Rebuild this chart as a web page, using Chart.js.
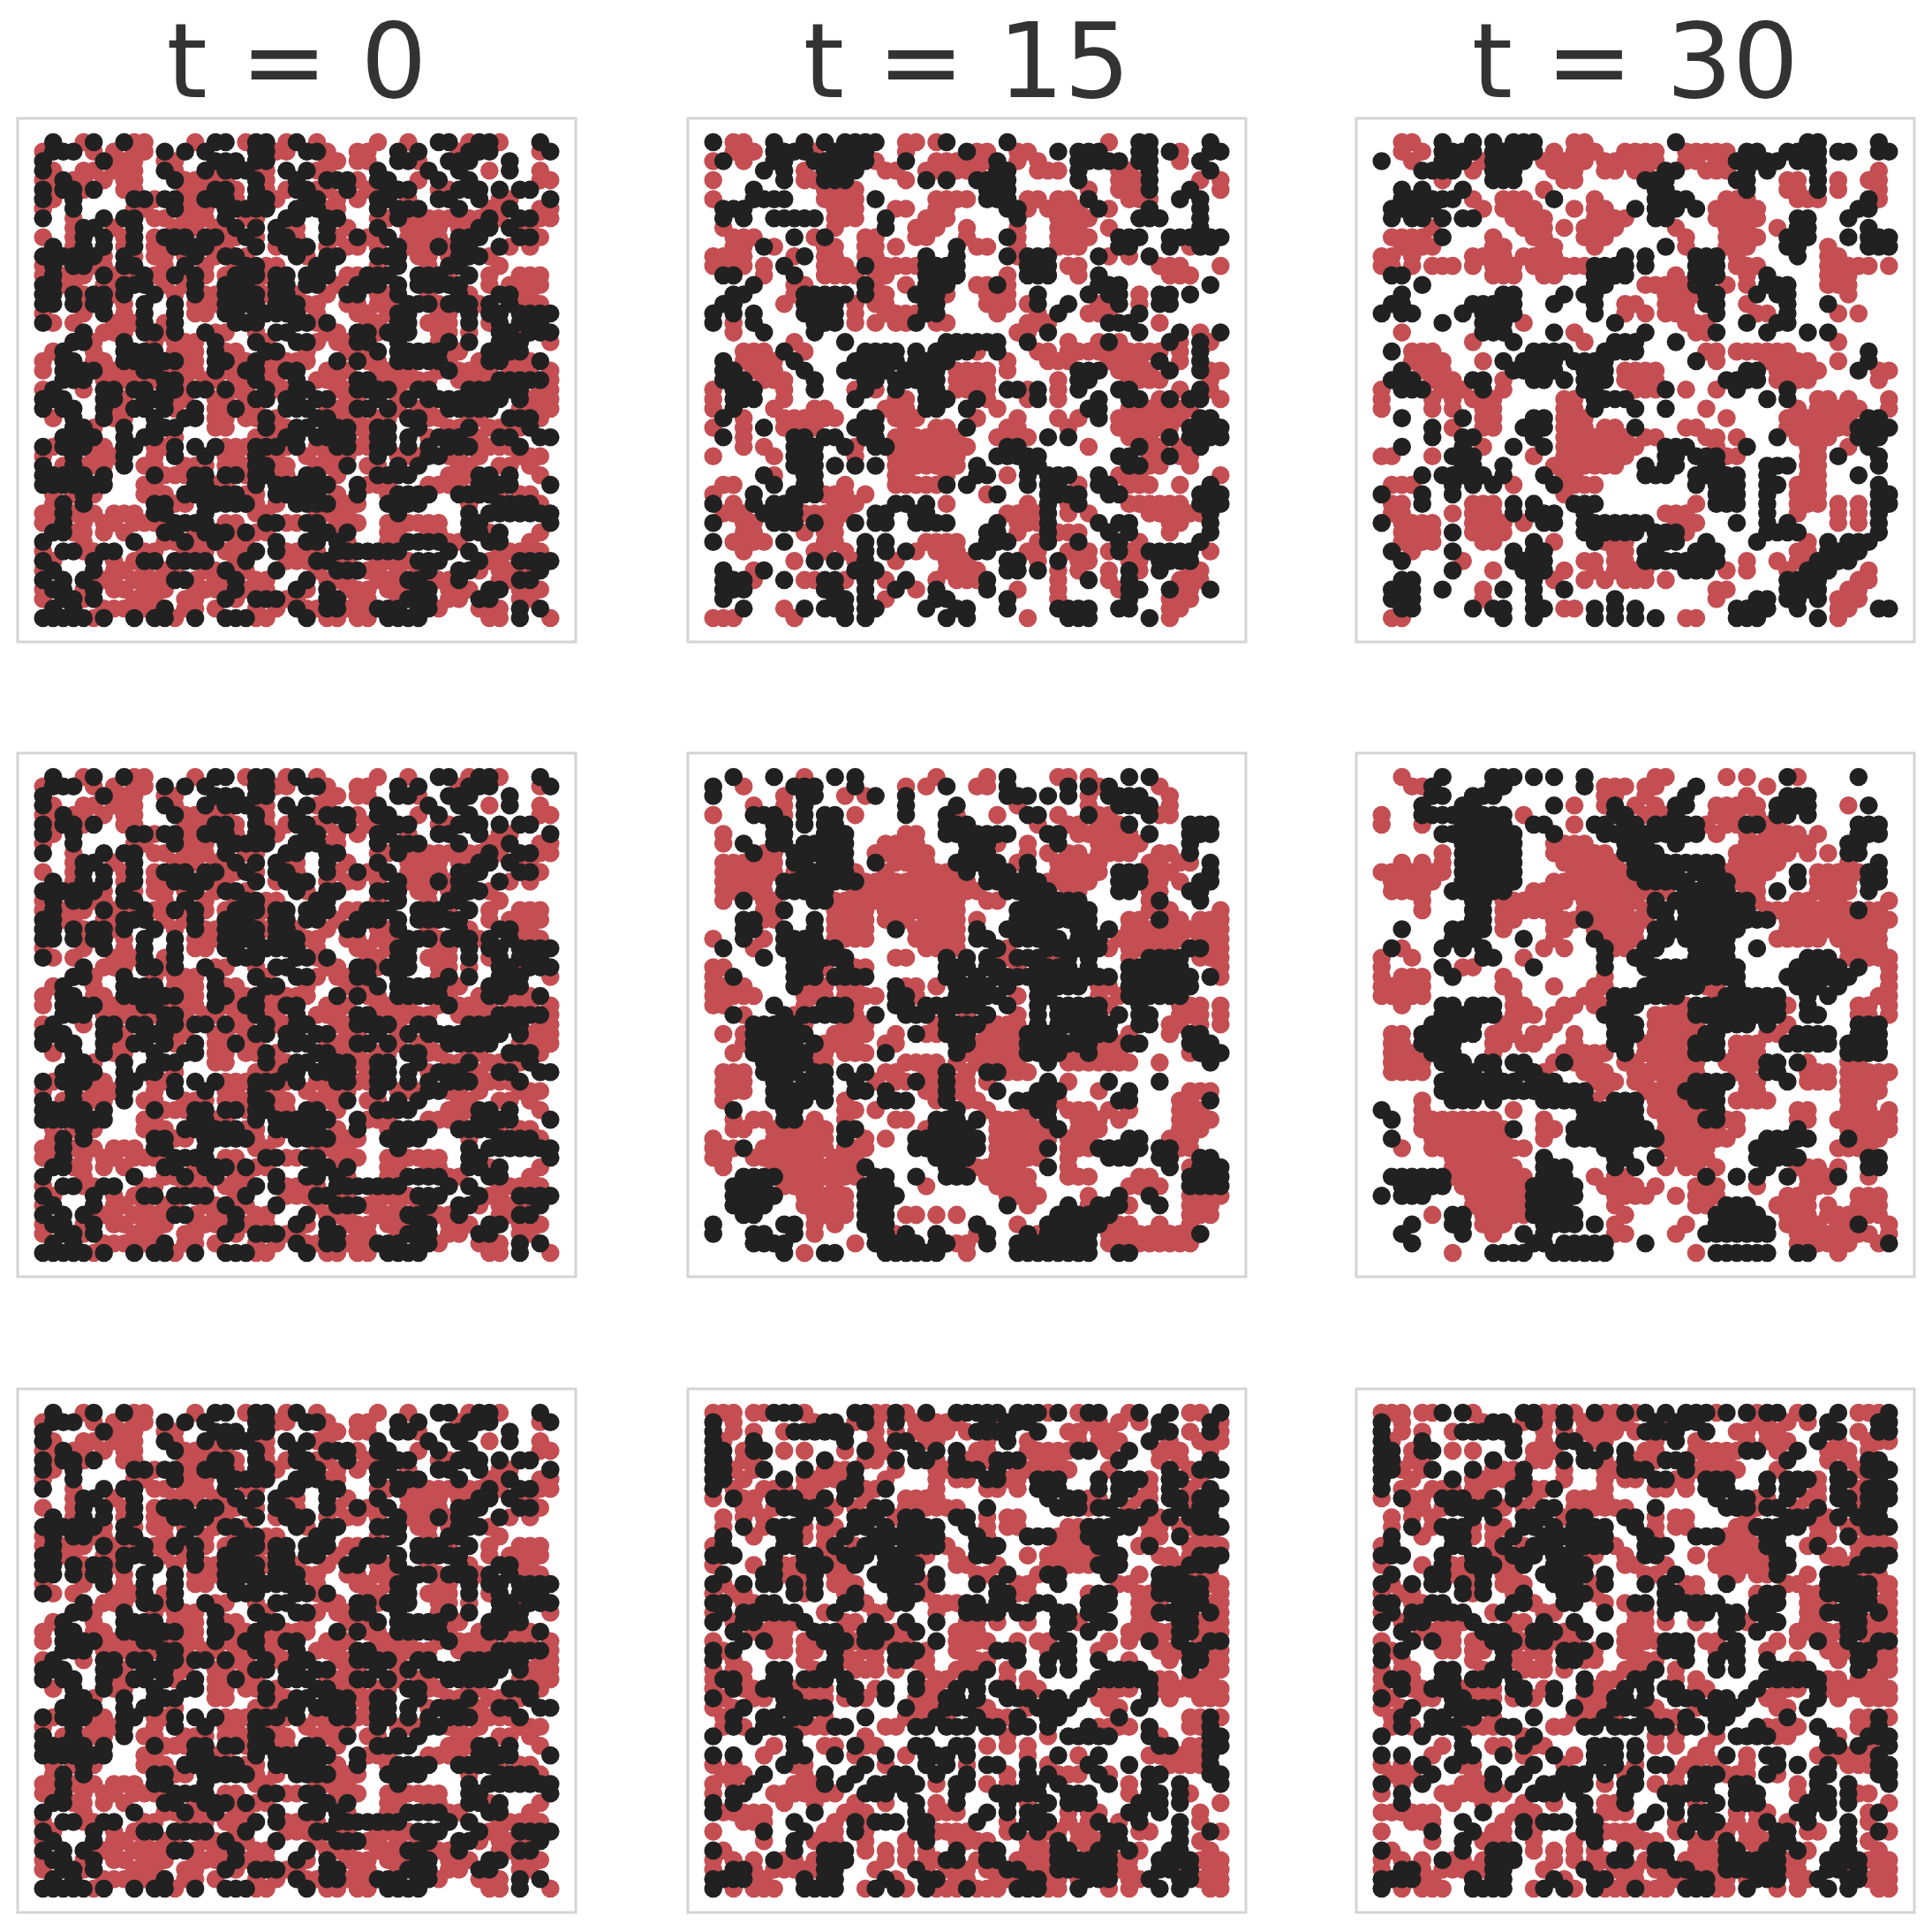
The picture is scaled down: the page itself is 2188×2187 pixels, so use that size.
<!DOCTYPE html><html><head><style>html,body{margin:0;background:#fff}canvas{position:absolute}div.t{position:absolute;font-family:"DejaVu Sans";font-size:118px;color:#333;text-align:center;width:632px;top:2px;line-height:134px;white-space:pre}</style><script src="https://cdn.jsdelivr.net/npm/chart.js@4"></script></head><body><script>
const titles=["t = 0","t = 15","t = 30"];
const gridT0=[
"k1 r4 k5 k8 r9-10 r15 k17-18 r20 k21-22 r24 k25 r27 r33 r36 k39-40 r42 k43-44 r45 k49",
"r0 k1-3 r5 r7 r9-10 k12 k14 k16 k21-22 r23-24 k26-27 r28 r31-32 k35 k37 k43-44 r41 k42 r49 k50",
"k0 k6 r7-9 r12-13 k17-19 k21-22 r28-29 r31-32 k35-36 r37 k40-41 k42 k46",
"k0 r1 r4 r5 r7-9 k12 r13 k16 r17 k18-20 r21-22 k24 k26 r27-28 k33 k38 k41 r44 k46 r49",
"r0-1 k2 r3-4 r6 r8-9 k13 r14-18 k21 r22 k25 k28-30 r31 k33-34 r37 k39 k42 r49-50",
"k0 r1 k2-3 r4 k5 r8-9 r14-16 k17 k18 r19 k21 r22 r24 k25-26 r27-28 k30 r32-33 k34-36 r39-40 k41-43 k45 k47-48",
"k0 r1 k3 k9-10 r11 k12-13 r14-15 k16-18 r19 k21-22 r23 k26-27 r29 r31 k33-34 r36 k39 k40 k43 r45 r46 k50",
"r0 k3 r9-10 k13 r14-16 k18-19 k20 k21-22 k25-27 r28-29 k33 k35-37 k41 r44-45 k46 r49-50",
"k0 r3 k6 k8-9 r11-12 r14-16 k18 r20 r21 k24-25 k28-29 r33-34 k35 r36-40 r41-43 r45 k44 k47-48 r49-50",
"r3 k4-5 r7 k9 r13-15 r17-18 k19 k21 k23 r24-25 k28 r30 k33 r36-39 r41-43 k43-44 k46 r47-48",
"r0 r3 k4 k6 r8 k9 r11 k12-14 k16-17 r18-19 k20 r21 k23-24 r25 k28 r29 k31 r32-33 k34 r36-39 k41-43 k47-48 r49",
"k1 r3 k4 k6 r8 k9 r11-12 k13-15 k16 r17-18 k21 r23 k24-26 r28 r30-31 r33 k35 r36-39 k39 r40 k41-42 k45 r46 r48",
"k0-2 k3-5 r6 k8 r9 r11-12 r14 k15 r17 k18-19 r20 k25 r26 k28-29 k33-35 r37-38 r40 k41-43 r44",
"r0 k1 k3-4 r5-6 k8-9 r12 k14 r16 r19 k20-21 r22 r23 k27-28 r33 k35 r38 k40-41 r45",
"r0 k1 r2-4 k6 r7-9 k10 r11-12 k13 r14 k15 r16 r18 k19-21 r22 k23-24 k26-28 r30-31 k32-34 k37-39 r40 k42 r44 r47-49",
"k0-1 r2-3 r6-7 k8 k9-10 r12 r14 k15 k18-20 r21 k23-24 k26-27 r29 k31-33 k35 k37-41 r44 r46-49",
"k0-1 k3 r4 k5-6 r7 k8 k11 r13 k15 r16-17 k18-20 k21 r22 k23-24 r25 r28 k30-31 r33-34 k35 r38 k41 r42 k45-46 r47-48",
"k0-1 k3 r4 k5-6 r8 k10 k13 r15-17 k18-19 k20-21 k23-25 r26-27 r30-31 r33-35 k36-38 r39 k40-42 r43 k44 k46 r47-49",
"r0 r4 k6 r8 k10 k13 r15-16 k18-19 k21-25 r27 r31-32 r34 k35-36 r39-40 k42 k44-45 k47-50",
"k0 r1 r3 r7-9 k10 r12 k13 k19-20 k21 k25-26 r27 k28 r32-33 k35-36 r38 r39-40 k42 r44 k45 k47-49 r49",
"r6-8 k4 k10-11 r12 k13 r16-17 k16 r18 r21 k23 k24 r28-29 r33 k31-32 k34-36 r39-40 r42 k45-46 k48-49 r47 k50",
"r3 k3-4 r5 k8 r11 r13-15 k17 k21 r21-22 k25-26 r27 r29-31 k31-32 k35 r39-40 k40 k42 k45-47 r47 r50",
"r1 k2 r5 k8-10 k11 r13-15 k17 r18-19 r22 k22-23 r26 r30-32 k33 k35-39 r40-41 k44-46 r46 k47",
"r0 k2-3 r5-6 k8-10 k11-13 r14-15 k17-18 r19-20 k21 r22-24 r25-26 k29 k31 r32-33 k35-39 r39-40 r43 k44-45 r46-48 k49",
"r0 k2-4 k5 r6-9 k10-11 r12-14 r15 k17 r18-19 k20-21 r22-24 k24-25 r28-30 r33-36 k40 r39-41 r42-44 r46-48 r50",
"k2-4 r6-9 r10-11 k12-13 r14 r16-17 r19-20 k21 r22-23 k25 r27-29 k31-32 r33-36 r37-38 r41-44 k45-49 r50",
"r0 k1 r4 k6-7 k9-10 k12-13 r14 k15-16 k18 r19-20 k22 r23-24 k25-26 r29-30 k31-33 k34 r35 k37-38 k42-47 r49-50",
"k0-2 k6-7 r8 k10-12 r13-14 r17-18 r20 k21-22 k24-25 k27-28 r30-31 k33 r35 k36 k38-39 k40-42 k43-45 k47 r48-50",
"k0 k2-3 k6 r7-8 k9-10 k12 r13 k15 r17-18 k19 r20-21 k24-26 r28-31 k31-32 k34 r35 r37-38 k40-42 k43-44 r47-50",
"r1 k3 k6 r7-8 k11 k14-15 r17-18 r20-21 k22 r23 k27-28 r29-31 r33-34 k36-37 r38-39 r42-43 k46-48 r49",
"r3 k3-4 r5 k8 k11-13 r17-18 k22 r23-24 k25-26 k28-30 r31-32 k33-34 k37 r40-42 k42 r44-47 k48",
"k2-5 k8 k10-11 r13 r21-23 k24-25 k27-30 r32-33 k33-34 k36 r38 k39-41 r41-43 k45-46 k49-50",
"k0 r1 k2-4 r5-6 r8 k8-9 r11-12 k13 k15 k17 r18-20 k21-22 k23 r24 k25 r27-28 k29-30 r31-33 k33-34 k36 k38 k40-42 r43-46 k47",
"r0 k3 r5 r6-7 k8 r11 k13 k16 r18-19 k21 r22-23 r26 r28-30 k33 r35 r36-37 k38-39 r40-41 r43 r47-49",
"k0 r2 k3 r4-6 k8 r10-11 r14-16 r18-20 k21-22 r23-24 r27-29 k30 r32-33 k35 k37 r41-42 r45-46 r48",
"k0-3 r3 k4 r6 k6 k11 r12-14 k15-16 k18-19 r20 k21-22 r23-24 k26-27 r29 r33 k33-36 r40-42 k43-44 k46 r49",
"k0-3 r3 k4-6 r10-11 k15-16 r17-18 k21 k23-27 r26 k28 k31 r32-34 r38 r39-41 k43-45 k46 k50",
"r1 r3 k4 r5 r10-12 k14-16 r17 k17-19 r20-21 k23-27 r29 k31 r34 k35-38 k41-43 r44-45 k43-44 r47-48",
"r1 k2 r4 k4 k11-12 r13-14 k16-20 r20-21 r23 k25-27 k28 r29-31 k34-37 r42 k45-47 r48-49 k48",
"r0-1 k2 r3-5 r7-9 k11-12 k16 r21-22 r27-30 k35 k42 k44-46 k47-50",
"r0-1 k2 r4 r6-7 r9-12 k13-16 r18-19 k22-23 r24-25 k26-27 r29-31 r34-39 k42 k43 k50",
"k1-2 r3-4 r6 r8 k12-13 r15 k16-18 r19 k20 r21 r22 k27-28 r29 k30 r34-35 r38-39 k42-43 r44 k45 r49",
"k0 r4 k9 r12-13 k14 r15-16 k17 r19-20 k23 k26-27 k29 r30 r34-35 k36-39 r40-41 k44 r45 k45 r48",
"r0 k2-3 r4-5 k6-7 r10-11 r14-16 r18-20 k21 k23 r24-27 k29-32 k33-35 k40 k42 r45-47 r48-49",
"k0 r1 k5 r7 r9-10 k10-11 k13-16 r15 r19 k20 r24-26 k27-28 r28-30 r33-36 k37-39 k43 r44-45 k47-49 k50",
"r0 k1 k5 r7-8 r10 r12-13 r16-17 k18 r19-20 k23 r27 k29 k30-31 r32-33 r35 r37 k38 k41-42 r43 r45-47 r48 k49",
"k0 k2 k4 r5-7 r9-12 k13-14 r15 r17-18 k19 r21-22 k26 r28-30 r33-35 k36 k37 r38-40 k41 r45-46 k47-48",
"r0 k1-2 r4 k5 r7-8 r10-12 r15-18 k19 r20-22 k25 r26 k28 r30-32 r34-36 k37-38 r40-42 k44-45 r47-49",
"r0 k2-3 r4 k5 r9-11 r14-15 k18 r19 k21-23 r24-25 k28-29 r31-32 r35 k36-38 r40-41 k43-44 r47-48",
"k1 k3 r6-8 r9-12 k12 r14-15 r17 r21 r23 k25 r26-27 k28-29 r30-32 k33-35 k37-38 r39 r43-45 k47 k49",
"k0-4 r5 k6 k9 k11-12 r13 k15 k18-20 r21-22 k26 r28-29 r31-32 k34-35 k36-37 r44-45 k47 r50"
];
const gridA15=[
"k0 r2-3 k6 k9 k11 k13-16 r19-20 r22 k23 k29 r39 k42-43 k49",
"r2-4 k6-9 r10 k12-15 r19 k25 r26-27 r30-31 k34 k36-38 k42-43 k45 r46 k49-50",
"r0 k1 r3 k6-7 k10-15 r16 k19 r22-27 k28 r30 r32 k36-40 k42-43 r46 k48",
"k5 k7 r9 k11-14 r17-18 r21-26 k28-29 r32-34 k36 r40-41 k43 k49",
"r0 k7 r9-10 k11-13 r19 k21 k23 k26-29 k36 r40-42 k43 r48 r50",
"k4 r11-14 k27-29 r37 r40-42 k43 k47 r50",
"r0 k4-7 r11-14 k16 r22-25 k27-29 r31-32 r34-35 k37 r41-43 k46 k48",
"k1-3 r12-14 r18-19 r22-23 k29-30 r31 r33-36 k38 r39 k43 k48",
"k1 k3 k6-10 r12-14 k17 r21-23 k30 r34-37 k42-44 k48",
"r1 r12 k17 r20-22 r25 r30 r34-36 r39 k48",
"r2-4 k8 r10 k11 r15-16 r20-21 r25 k29 r30 r34-37 k40-42 k45-50",
"r2-3 k5 r6 r11-12 r15-16 r18 k24 r26-27 r30 r34-36 k40-41 k45 r47 k48-49",
"r0-3 r8 k9 r11-12 r15-16 k21 k24 k29 r30 k31-33 k38 r39 r41 k43",
"r0-3 r5 k7 r11-13 k15 r16-20 k21-24 k31-33 r35-36 r44-46 r50",
"k1-2 r5 k8 r11-14 r16-17 k21-24 r29 k31-33 r36 k38 r45-47",
"k4 r8-9 k15 r16 r19 k21-23 r26-27 k28 r29 k38-40 k49",
"k2-3 r8 k9-13 k15 r16-17 k20-22 r23 r27-29 k32 k37 k39-40 r42 k44-45 k47",
"k1-2 r7 k9-12 r14 r16-17 k21-22 r27-29 r31 k32 k35 r38-39 k40 r42 k44-45",
"k0 k2 k4 k9-12 r14 r17-20 k21-22 r28 r32 k34 r37-39 k42",
"k0 r2 k4 k10-12 r14 r16 r18-19 k20 r22-23 r31-33 k39-41 r44",
"r2 k5 k10 r30-31 k33 k42 k46 r48 k50",
"r8 k13 k23-28 k31 r35 r38 k39 r40 k45 r46 k48 r49",
"r3-5 k7 r9 k15-18 k20 k22-25 r26 k28 r32-33 r35-44 r46 k48",
"k1 r3-6 k8 k14-18 k20-23 r29 r33-35 r39-42 k44 r46 k48",
"k1-2 r4-6 k9 k13-17 k19-22 r24-27 r29 k36-38 r40-43 k45 k48 r49-50",
"k1-3 r5-7 k10 k15-16 k18-22 r24-27 r34 k36-37 r41-44 r49",
"r0 k2-4 r7 k10 r14 k15 r16 k18 k21-22 r24-27 k29-30 r31 k32 r34 k36 k40-41 r46 k48 r49",
"r0 k2-4 r7 k14 r18-19 k21-23 k26 r27 r31 k32 r34 k38 k41-42 r44 k45 k47-48 r50",
"r0 k2 r6 r10-11 r17-19 k21-22 k25 r28 k37-38 r41-47",
"k1 r3 r7-12 k15-16 r18-20 r26 r30 r34 r36 k38 r40-46 k48-49",
"r0 r3 k5 r7-10 k14-16 r19 r22-23 k25 r29-30 r35 r40-45 k47-50",
"k1 r3 k8-9 k11-12 k15-16 r18-24 r28-31 k33 k35 r41-43 k45 k47-50",
"r3 r5 k8-10 k13 r14 k16-17 r18-25 k29-30 r37 k42 r43-44 r46-47 k48",
"r0 r6 k8-10 r14 r18-24 k28-32 k40-41 r43-44 k45 r46-47",
"k8-10 k12 k14 k16 r18-24 k26 k31-32 k41-42 r43-44 r47",
"k5 r6 k9-10 r18-19 r23 k26-27 r29 k31 k33-35 k38 r40-42 r50",
"r1-2 k6 k9-10 r13 r18-22 k23 k25 k31 k33-34 r36 k38-39 r41-43 r46 k49",
"r0 k4 k8-10 r11-13 r15 r27 k28 k33-36 k39-40 k48-50",
"k0 r2 k4 k6-8 r12-14 k18-19 k21 r23 r31 k33 r35 k36 r41-46 k48-50",
"r1-3 k5-8 r9-13 k16-17 k20-21 r29-32 k33 r35 r37 r43-44 r45-48 k49",
"k0 r3-4 k6-8 k10 r11-12 k14 k16-17 k20-23 k28 r30-32 k33 k38 k40-41 r45-46 k49",
"r3-4 r9 r11-12 k27-28 r30 k33 r34-36 k39 k41 r45 k49",
"k0 r2-5 k7 r11-12 k15 k17 r21-24 k27-29 r32 k33 k36 k40 r42 k48",
"r3 r10-11 r13 k15 k17 k19 r20 r22-24 k26-27 r31-32 r35-37 r39 k40 r41-42 k43-47 r49",
"r8 k10 k12 r14 k15 r18 r23-25 k29-30 r32 k34 r36-37 r41-42 k44-47",
"k1 r4 k5 k14-16 r23-26 k29-30 k32 r34 r36 r39 k41 r42 k44 r47-48",
"k1-3 r4 k7 r9-10 k11-12 r13 k15 r17 k19 r22 r24-26 k27 r34 k37 r39 k41 r46-48",
"k1-3 k11-12 k15 k18 r20 k22 k27 r30 r34 r40 k41-42 k45 r46-47 k49",
"k1 k12-13 k15 r17 k22-23 k29 r34 k41 r45-47",
"k3 r7 k9 k11-13 k15-16 k21 k24-25 k29 k34-37 k40-41 r45-46",
"r0-2 r8 k13 k15 k23 k25 r31 k35-37 k43 r45"
];
const gridA30=[
"r2-3 k6 k9 k11 k13-15 r19-20 k29 k42-43 k49",
"r2 r4 k6-9 k11-15 r17 r19-21 r24-27 r30-34 k36-37 k40-43 k45-46 k49-50",
"k0 r3 k6-8 r10 k11-14 r16-20 r22-27 r30-31 r33-34 k35-39 k41-43",
"k4-7 r9 k11-13 r17-19 r22-23 r25-26 k28-29 r32-34 k36 k38 k43 r49",
"r6 k11-13 r18-19 k26-28 k35-36 r40-41 k43 r45 r48-49",
"k2 k4 k8 r16 k27-28 k36 r40-41 k43 r45 r49",
"k2-7 r9 r12-14 k17 r21 k27-30 r34-36 r41-43 k48 r49",
"k1-5 r10 r12-15 r19 r21-22 k25 k27-29 k31 r33-37 k47-48",
"k1 k3-4 k6 k8-9 r13-16 r21-24 k27-28 r33-37 k41-42 k46",
"r5 r14-16 r18 r20-23 r29 r34-36 r39 k41-42 k48",
"r1-4 k6 r11 r15-16 r20-22 r30 r34-37 k40-42 k46 k48-50",
"r2-5 r11-12 r16-17 r21 k28 r30 r34-36 k40-41 r44 k48-50",
"r0-1 r3 r9-12 r14-17 k24 k26 k31-33 r35 k41 r44-45",
"r0-1 r3 r5-7 r9 r11-13 r15-20 k21-24 k26 k31-33 r35-37 r44-48 r50",
"k1-2 r11-13 r16-17 k21-24 r29 k31-33 r36 k38 r44-46",
"k4 k21-22 r26-30 k31-32 r34 r36 k38-40 r44-46",
"k2 k12-13 k18 k20-21 r28-31 k32-33 k37 k39-40 r46",
"k1-2 k9-13 k17 k21 r24-25 r28-30 k32-33 r36 k40 k44",
"k0 k2-3 k8 k10-13 k21 r24 r26 r28-30 k33 r37-38 k40 r45 r47",
"k6 k10-12 r14 k23 r30-32 k36 k39-40",
"r2 k10-12 k17 r19 k26 r31-32 k33 k38 k42 k44",
"r9 k13 r20 k23-25 k29 r45",
"k1 r3-5 k15-18 k22-25 r32-33 r35-40 k48",
"r3-6 r10 k12 k14-17 k19-22 k31 r33 r38-42 r45 k48",
"k2 r4-6 k13-17 k20-22 r24-27 k36-37 r39-43 k47 r49-50",
"k1-3 r5-7 k9-10 r12 k15-16 k18 k20-22 r24-27 k34-37 r39-42 r49",
"r0 k2-4 r6-8 k10 r12 k20-21 r25-27 k28 r30 r33 k35 k40",
"r0 r5 r7 r9-11 r18-19 k21-24 k38 k40 r43-44 r46 r50",
"r0 r5 r7 r10-11 r18-19 k21 k25 k28 r32 r41 r43-47 r50",
"k2 k8 r10-11 k15-16 r18-20 r34 r40-46 k48-49",
"k5 r7 r10-11 k14-16 r18-20 r22-23 k25 r30-31 r40-46 k47-50",
"k5 k8-9 k15 r18-24 r26-27 r32-33 r35 k39 r41-44 k47-49",
"k2 k8 r10 k13 k16 r18-25 k28-30 r33 k36 r42-43 r46 k48",
"r0-1 r5 k7-9 r15 r18-24 k28-29 k31-33 r34-35 r42-43 k45 k49",
"k8-9 k12 r17-23 k26 k28-29 k32-33 k38-40 r42-43 k49",
"k4 k6-10 k12 k16 r18-19 k26-28 k31-35 k38 r42-43 k47",
"r1-3 k7 k9 k11 r13 k17 r18-21 k31 k33-35 k38-39 r41-43 k49",
"k0 k4 k7 r18 k33-35 k38 r41-43 k49-50",
"r1-2 k4 r9-11 k13 k15 k19-21 r31 k33-35 k38 r41-43 r45 r47 k49-50",
"r1-2 r7 r9-11 k13 k15-17 k20 r28-30 k38 r41 r45 r47 k49",
"k0 r2-5 r9-12 r14 k16-17 k20-26 r29-31 k35 k38 k40 r45 r47 k49",
"r2-5 k7 r9-12 k20-25 k27-29 r30 k38-41 k49",
"r2-5 r10-11 k15 r17 k21 r22-24 k27-29 k32 k37 r42 k44 k46-48",
"k1 r3 k7 k13 k15-16 r23-24 k26-27 k31-33 r41-42 k44-47",
"k2 r8 k13-16 r20-21 r23-24 k26-33 r36 r39 r41-42 k43-46",
"k7 r11 k14-16 r18 r21 r23-26 k30-32 r34 r36 r40 k42-44 r48",
"k2-3 k15 r17 r20 r22 r24-26 r28 k40-43 r47-48",
"k1-3 k6 r10 k12 k15 k18 r33-34 k40-43 r46-47",
"k1-3 r10 k15 k23 r33 k37-38 k40-41 k43 r45-47",
"k2-3 k9 k11-12 k15-16 r18-19 k21 k23 k25 k35-38 k41 r45-46 k49-50",
"r1-2 k12 k15 k21 k23 k25 k27 r30-31 k35-37 k43 r45"
];
const gridB15=[
"k2 k6 r9 k12 k14 r22 r27 k29 r34-35 r37 k41 k43",
"k0 r3 k8-10 k14 r19 r21 k23 r26-27 k29 k35 k37 r38 k39 r44",
"k0 r7 k9-10 r13 r15 k16 k19 k29-31 k33 k35 r37 k39-42 r45",
"r4 r7 k9 k19 k24 r30 r37 k40-43 r45",
"r0 k4-6 r7 k9 k11-12 r14 k19 k23 r24 r28 k31-32 r34 k37 r38-39 k43 r44-45",
"k6-7 k9 k11-12 r12 k23-25 r32 r35-36 r38-40 k41 k47-49",
"r1 k6-7 k11-13 r19-20 k23-29 k33-34 r36-41 k43 k47-49",
"r1 k3 k6-7 k9-13 r17-20 k25-27 r28 r31 k34 r38-42 k47",
"k4 r5-6 k8-13 r16-21 k25-27 r31 r33 r35-36 r38-41 r44 r45 k47",
"r1-6 k8-9 k11-13 k16 r18-21 k24-28 r30 k31 r34-38 r43-44 r46-47 k49",
"r1-6 r8 k9-13 r14 r17 r20-24 k25 k27-29 k31 r34-38 k40-42 r43-45 k49",
"r1-5 k7-14 r14-18 r19-25 k27-32 r33-37 k40-42 r43-44 r46 k48-49",
"r1-5 k7-11 r14-25 r26 k29-33 r35-36 k40-41 r43-44 k47-48",
"r1 k3 r5-6 k10-11 r12-24 r27-28 k31-36 r43 k44 k48",
"r5-6 k7 r12-15 r17-24 k30-37 r43-45 r50",
"k3-4 r5-6 k10 r12-15 r17-19 r21-24 r26 k30-37 r41-42 k44 r45-46 r48-50",
"k3-4 k7 k10 r12-15 k18 r20-24 k26 k29-33 k36-37 k39 r41-44 r45-50",
"r0 k3 r5 k7-10 r12-15 r20-24 k26-27 k30-34 k36-38 r40-46 r48-50",
"k1 r4 k7-12 r12 r21-24 k28 r29 k33-38 r39 r41-45 k47-48 r49-50",
"k5 k8-13 k13 r18-19 k23 k25 k27 r28-29 k30-32 r33-34 k35 k37 r41 k43-46 r48-50",
"r0-1 k8-10 r11 k13 r14-15 k23-25 k27-28 r30 k32-35 k37 k41-46 r50",
"r0 k2 k8-10 k12-15 k23-24 k26 k28-33 k34-39 k41-47 k49 r50",
"r0-3 k8 r9-11 r13-14 k18 r19-20 r22 k24-27 k29 k32-36 r38-39 k41-47",
"r0-4 r9-11 r13-15 r16 k18-19 r20 k24-28 r30 k32-33 r38 r40 k41-46",
"r0-1 k6 r9 k11-13 r14 k18-19 k21-22 k23-26 k29 k32 k34-38 r39 k42 r46-48 r50",
"k2 r3 k7 r8 k9-10 k11-13 r14 k16 k19-21 k23 r25 k27 r30 k32 k34-38 r38 k40 k42-43 r46-48 r50",
"k4-6 k7-8 r9 r13-15 k23 r22 k24-26 r27-29 r30 k32 k34-39 k42-43 r45-46 r48 r50",
"r1 r3 k4-9 r9 r12-15 r18 k20 r21-22 k23-25 r27-30 k31-34 k36-39 r39 r41 r45 k47-48",
"r3 k4-8 k10 r11-14 r17-18 k24-25 r26-30 k31-33 r32 k34-37 r38-40 r41 k41-42 k47-49",
"r2 k4-8 k9 r10-11 r13-15 k17 k24 r25-30 k31-34 k37 r35-40 r47 k48-50",
"k5-9 r10-11 r19-22 r24 r26-30 k33 r35-41 r44 k49",
"r1-3 k5-8 k10-11 k13 k15 r17-18 r21 r22 k23 r25 k27-28 r29-31",
"r1-3 k6-7 k9-11 k14 r16 r18-19 k20 r21-22 k23 r24-25 r27 k33 r35 k39 k44",
"r1-3 k6-11 k14 k15 k17 r21-22 k23 r24-25 k28 k32-34 r38 k41 r47-49",
"r1 k6-9 k11 r13 k17-19 r22 k23 r25-26 k30-33 r34 k40-41 r46-47 k49",
"k2 k7-8 r13-14 r16 k24 r27 r31 k32-33 r35-37 r39 r41 r46-48",
"r2 r4-5 k7-8 r10 r13 r18-19 k22-24 k26 r28-31 r33 k33 r36-38 r40 r46-49",
"r2-3 r6-11 k13-14 r21 k22-25 r28-33 k34 r36-38 r46-48",
"r0 r6-11 k13 r15 r17 k20-26 r28-33 r35-37 k41-42 r45-47",
"r0-2 k3 r5-11 r13-15 k20-26 r28-33 k33 r35-39 k38-42 k44-45 r46-47",
"r0-1 r4-10 r12-14 k22-23 k24-25 r28-32 r35 k39-41 k44-45 r45 k48-49",
"r1 r6-15 k15 k23-24 r25-30 k33 r35 k45 r47-48 k48-50",
"k3-6 r7-14 k16-17 k20 k23-25 r27-31 r35-37 r42-43 k47-50",
"k2-5 r7-10 r12 k15-17 r21 r28-31 r41-44 k47-50",
"k2-6 r9-13 k15-18 r29-32 r37 k40 k43 r47-50",
"k2-5 r9-13 k15-17 k29 r31 k35 r37 k38-40 r41 k44 r47-49",
"k3-4 r10-13 k15-17 r19-20 r22 r24 k34-38 k37-39 r47-49",
"k0 k7-8 r10 r12 k15-17 k26 r26 r30 k33-38 r39-41 r44 r47",
"k0 k4-5 r10 k8 k16-17 r18 k19 k22 r22 r26 k27 k31 r32 k33-37 r39-47 r44-48 k48",
"k4-7 r14 k16-20 k22-23 r23-24 r25 k27 r27 k30-37 r39-44 r45-47",
"k7 r9 k11-12 k17-20 k21-22 r25 k30-37 r36 k40-41"
];
const gridB30=[
"r2 k6 k11-13 k15 k17 k20 r27-28 r34 r36 k40 r41 k47",
"r3-4 k5 k11-12 k20 r22-24 r26-27 k31 r38",
"k5-6 k9-11 r22-23 r26 k30 r36 k40-42",
"k4 k8-9 k17 r19 r22 k23 r25 r27 k29-30 r33-37 k39-42 r46 k48",
"r0 k4-6 k7-12 r14 k23-24 k29 r26-29 r33-35 r37 k39-40 k42",
"r0 r4 k8-12 k15-16 r19 k21-22 k24-25 k27-31 r32 r34-35 k36-37 r38-39 k47-49",
"k6-13 r11 k17 k22-23 k24-31 r33 r36 r38-41 r43 k47-49",
"k8-10 k11-13 r17-20 k24-26 k29 r36-41 r42 k46-47",
"r6 k8-10 k11-13 r17-21 r22 k24-27 r35-40 r42 r44 k46-47",
"r2 r4 r6 k8-13 r18-23 k25-28 r29 k29-33 r35-39 r46 k49",
"r0-6 k8-13 r13 r19-24 k25-29 k31-33 r34-38 k41 r43-47 k48-49",
"r1-5 k8-13 r17-25 k26-30 k32-34 r35-37 k41 r43-46 k48-49",
"r1-4 k7-12 r15-26 r27 r27-28 k30-34 r36-37 k39 r43-46 k48",
"r4 k9-10 r12-18 r20-25 k27 k29-36 r37 r41-42 r44-45 r50",
"r4 k9-10 r12-17 r20-24 r26 k27-28 k30-36 r38-39 k47 r40-49",
"k9-10 r12-13 r17-19 k20 r21-26 k28 k30-38 r40-50",
"k2 k7-10 r12 r17-18 r21-25 k27-30 k31-35 r40-49",
"k7-9 k14 r17 k21 r21-25 k27-28 k30-34 r39-43 r45-49",
"k1 r2 k6 k8 k10 r16 r18 k22 r23-24 k26-27 k31-34 k37 r46-49",
"r0 r3 k10-11 r14 k22 k25-26 k31-34 k42-44 r46-50",
"r0 k6 r8-9 k15 k22 k26-33 k34-35 k41-45 k47 r50",
"r0 r2-4 k7 r12 r22 k27-34 k35 k40-46 r50",
"r0-4 r12-13 r17 r21-22 k26-31 r32-33 k35 k41-43 k45 r50",
"r0-4 r13 r20-21 k23-25 k26-29 r33 k34-39 k42 k44 r49-50",
"r2 k6-7 k9-11 r13-14 r18-19 r21-22 k23-25 r29-30 k31-39 r40 k42 r47-48 r50",
"k6-11 r13-15 r17-18 k22-24 r27-30 k31-39 k42-43 r47-48 r50",
"k5-9 r12-13 r17 k23-25 r27-31 k33-36 k38 r40 k47-49",
"r1-2 k4-7 k8-9 r11-13 r15-16 r19 k23-25 r27-31 k32-33 r38 r39 k41-44 k47-49",
"r1-2 k4-7 r11-12 r14-15 r19 k23-24 r26-30 k31-33 r35-37 k40-44 k46-49",
"r1-2 r3-4 k5-7 r11 r18-19 r20-22 k24 r26-30 k31-33 r35-37 k46-49",
"r1-3 r4 k6-8 k10-11 k13-14 r17 k18 r19-21 r24-25 r27-31 r34-37 k38-39 k41 r42 r46-47",
"r1-3 r4 k7-9 k11 k14-15 r16 r20-22 r25-27 r28-31 r35-36 k38-39 r42-44 r46-50",
"k6-9 k10-13 k15-17 r21-23 r25-26 r28-31 k31-34 r36-37 k40 r42-44 r46-49",
"k6-11 k12-15 k16-20 r22 r26-29 k30-33 r36-37 r46-49",
"r4 k7-9 k11 k16-20 r21 k23-25 r27-30 k31-33 r35-38 r46-48",
"k0 r4 r13 k20-25 r27-32 k33 r41-42 r46-48 r50",
"k1 r4-11 r16 k20-25 r28-31 k32-33 r34-35 r41-42 r45 r46-50",
"r4-12 k13 r16-17 k19-26 r28-33 r35 k41 r46-50",
"k1 r5-12 r16 k19-27 r28-34 k38-40 k41-42 k46 r46-49",
"r2 r5-13 r14 k22-24 r28-32 k37-40 r45-48",
"r7-12 r16 k16 k23-24 k27 r29-32 k37-41 k48-49",
"r7-13 k16-18 k23 k25 r28 r30-31 r33 k38 r41-43 r45 k48-49",
"k1-6 r7-14 k16-18 r21 r23 r24 k32 r32 k35 k37 k40 r42-44 k45 r48",
"k2-6 r8-15 k15-19 r22-25 r27 r31-33 r37 r42-44",
"k0 k2-4 r9-15 k15-19 r23-25 r26 r29 r31-33 r40-41 r42 r47-49",
"r9-14 k15-18 r23 r31-32 k34-36 r39-42 r44 r47-49",
"r5 k7-8 r10-14 k15-19 r24 k33-37 r40-42 r44-45 r46-49",
"k3 k7-8 r10-12 k16-19 k21 r23 r30 k33-38 r40-43 r45-47 k47 r50",
"k2 k8 r11 k14 k16 r23-24 r29 k32-38 r41-48 r50",
"k3 k15-16 k18-22 k26 r41-46 r49 k50",
"r7 k11-14 k17-22 r31 k33-38 k41-42 r45"
];
const gridC15=[
"r0-2 r4-5 k6-8 r9 k14-15 r16-17 k18 r19 k21 k24-25 k26-28 k30-32 r33 k34 r36 k37-38 r41 k42 k45 r47-48 k50",
"k0 r2 r10 k11-12 r14 k15 r16 k18 r20-24 r27-28 k27 k29-31 r37-38 r40 r42 k44 k49 r50",
"k0 r2 r4 r7 k8-13 r16 r18 r20-23 r25 k26-29 k32 r35-36 r38-39 k44-45 r47 k49 r50",
"k0 r1 k4 k13 r16 k18-19 r21-22 r27 k29 r31 r36 r38-40 k43 r45 r48-50",
"k0-1 r3 k4-5 r7 r9 r13 k15 r16-17 k20 k22 k24 r26-27 r31-35 k36-37 r39 k41 r44-46 r49",
"k0-1 r3-4 k11 r15-16 k18 k20-21 r22 k24 r25-27 k28-29 k30 r32-34 k40 r44 r46 k49",
"k0-1 r2 r4 k5 k9 r11-13 k14 r18 r22-23 k24-26 k28 r30-35 r39 k45 r47 k48-50",
"k0-1 r3 k7 r9-13 k14 r17 r22 r24-25 k27-28 r29-30 k32-34 k38 k40-42 r43 k45-46 r48",
"k0 r2 r5-7 r9-10 k13-14 r15-16 k17 r22 r27-28 r30 k32-34 k38 k40-41 r43 k45 r47 k49",
"r0 k2 r3-4 k6-8 r9-11 k11 k13 r15 r19-22 k33 k35-36 r37 r38 k40 r42-43 k45-46 r47 k48-50",
"r3-4 r6 k7-10 r10-12 r14 k16-17 r19-24 k27 k34-36 r35-37 k38-39 r41 k43 k46 r47 k48-49",
"r1 r3 r5 k9 k11 k14-16 r18 k19-20 k24-25 r27 r29-30 k40-42 r42-44 k45 k47-49",
"r1 k3 r5 k6-8 r9 r11-12 k14-15 k17 k19-22 k25 r27 r29-30 r35-37 k37-41 r43-44 r46-47 k48-50",
"k1 r4 k7-8 r9 r11 k13 r16 k16-22 k26 r26-27 k31-33 r33-36 k37-39 r43-44 k46 r48-49",
"r0 k1 k7-8 r11 k12 r14 k15-17 k19-22 r23 k26-28 r34-37 k38-39 r42 k43 r47-50",
"k0-2 r2 k6 k9-10 r11-13 k13-15 r15 k17-19 r20-21 r24 k26-27 r31 r33-38 k39-40 r44-45 k48 r47 k49-50",
"r0 r4 k6 r7-8 k9-11 r12-13 k14 k17-20 r20 r24-25 r28 r33-37 k38 k39-40 r45-46 k47-48 k49",
"k1 k5-6 r7-10 k10 r12-13 k16-20 r20 k22 r26-27 k29 k33 r32-33 k34 k39 r42 k44-46 r47-49",
"k0 r1 k3 k5-6 k8 r9 k10 r12-14 k17-19 r21 k22 k26 k28 r30-31 k34 r40-41 k44-45 k46-48 r49-50",
"r0 r2-3 k8 r9 k10 r13-14 k14 k18-20 r20-21 k28 k28-29 r30-31 r37 k38-39 r42-43 k44-45 k46-48 r50",
"k0-1 r3-4 k5-6 k13-14 r15 k18-19 r22-24 k25-26 k28-29 k32-33 r37 k37-39 r42-44 k46-47 k48 r49-50",
"r0 k1 k3-4 k5-8 r8 r11 k12 r16-17 r22 k25-27 k28 k30-31 r35 k34-35 k37-38 r42-43 k44-45 k46-47 k49 r50",
"k0 r2 k3-4 r6-8 k9 r13-14 k16 k19 k22 r25-26 r28 r31 k34-35 r36 k38-39 r42-43 k46-47 r48-50",
"k2 r4-7 k10-12 r13 k15-17 r17-19 r20 k20 r24-26 k34 k37 r41-42 r43-45 k46-47 r48-50",
"r0 k3 k5 r6-7 r9-10 k11-13 r14 k15-16 r17-19 k22 r24-25 r26-27 r30 r32-33 k35 r39 r41 k43 r43-44 k46 r48 k49-50",
"k0 r1 k2 r6-7 r9-10 k12 r13 r15-16 k18-20 r21 r24-25 k28-29 k30 r33 k34 k35 r38 r44 r45-46 k47-48 r49-50",
"k0 r2 r9 k12 r13-14 r16 k18-19 r20-21 r25-27 k30 k33 k35 k38 r41 r45 k47-48 r49-50",
"r0 r2-3 k6-7 r10 k11-12 r14-16 r18 r21 r24 r25-26 k27 r29 k33 k35 k39-42 k47 r49-50",
"r0 k1-2 r3 k6-7 k9-11 k13 k20 r22-23 k25-26 r29 r31 k38 k39-43 r44-45 r47-48 r49",
"r0 k2 r3-5 k5-7 r8-11 k13-14 r16 k17 k20 r21-22 k24 k26 k28-29 r29 r31-32 k37 r39-41 k43 r44-46 r47-50",
"k0 r1 r4-5 k7-8 r8-11 r13 k14 r15 k17 r20-22 k23-24 k26 k29 k30-31 k33-34 k36 r38-39 k43 r45 r48-50",
"r0 r2 k3 k7-9 k10-11 r20-22 k19 k23-25 r26-27 r31 k32-33 k34-35 r35 r39-40 k42",
"r1 k2 k5-6 k8-9 r8 r11 k15 r19-21 k22 r23 k26 r27-29 k30 k33-34 r33 k40 r47-48 k49 r50",
"r1 k2 r3 k5-7 r8-12 k12-13 r17-18 k20-21 k23-25 k27-28 k30-31 k33 k37 r38-41 k43 r47-49 k49",
"k0 k4 k8 r15 r29 r33 k35-37 k38-39 k43 r44 k49-50",
"r6 k8 r11-12 k14 r15-16 k20-21 k24-25 r27 r29 r31 k44-45 r47-48 k49-50",
"k0 k2 r5 k8-9 k12 r14 k17 r19 k21-23 k25 r31 k34 r36 k38 r43-48 k49",
"r0 r2 k7 r8-9 k15 r17 k21 k23 r25 k27-28 k31 r33 k37 k41 r45-48 k49",
"r1-3 k5 r9 k11 k14 k18-19 k22 k25 r29 k31 k33 r34-36 k38 r39 k43-44 k49-50",
"r0 r2 k4 r8-10 k11 k13 k16-20 r22 k24-25 r27 r29 k31-32 k34 k39 r41 k43 k46 k50",
"r0 k2-3 r6-12 k15-17 k19 k24 k28-32 k35-37 r41 k43-44 k46 r47",
"k0 k2 r7 r10 r14 r17 k20 r22 k24 k29 r31 k33 k35-37 k42-44 k46 r50",
"k0 r1-5 k10 r13-15 k20 r22-24 k27 k29 k31-32 r35 r37-38 k41-42 k44 r48",
"r3-5 k8 r12 k14 r15 k16-18 k20-21 k26 r29 k31-33 r35 r37 k38 r40 k42 k46 r48",
"r0 k5 k9 r11-12 k14 r15 k20-21 r22-25 r29 k30 k32 r33-34 r36-37 k39-40 r42-43 k46 k49 r50",
"r5 k8 r10-12 r15 r19 k21 r24-27 r31-32 k34 r36-38 k39-40 k46 r48",
"k0 r1 k8 k11-13 r15 r17 r19 r21 k24 k27-28 r31-33 k34-35 r37 k38-39 k41 r42 k45-46 r49",
"r0 r2 r4 k6 r7-8 r10-11 k11-13 r13 r17 r19 r21 r22 k23-24 r26 k27-28 r30-33 k34-36 k37-39 r40-41 k44-47 r48-50",
"r0 k2-3 r4 r6-8 r9-10 k11-12 r16 k20 r21 r23-25 r27-28 k29-30 r31-33 k34-37 k38-39 r40-41 k44-45 r46 k47 r49-50",
"k0 k1-3 r4-5 k9 r9 k11-12 k17 r18 k21-22 r24-25 r28-30 k31-32 r33-34 r36 k37-39 r41-42 k43 k46-47 r48-50",
"k0 r2 r4-6 k9-12 r15 k16 k18 r19 k21 r22-24 k25 r26-27 r28 k30-31 k32 r33-34 k36 r39 r41 k44 k46 r49-50"
];
const gridC30=[
"r0-2 r4-5 k6 k8 r9 k14-15 r16-17 k18 r19 k21 r22-23 k24 r25 k26 k28 k30-32 r33 k34 k36 r36-37 k38-39 r41 k42 k45 r47-49 k50",
"k0 r2 r10 k11-12 r14 k15 r16 k18 r20-24 r27-28 k27 k29-31 r37-38 r40 r42 k44 k49-50",
"k0 r2 r4 r7 k8-13 r16 r18 r20-23 r25 k26-29 k32 r35-36 r38-39 k44-45 r47 k49-50",
"k0 r1 k4 k13 r16 k18-19 r21-22 r27 k29 r31 r36 r38-40 k43 r45 r48-50",
"k0-1 r3 k4-5 r7 r9 k13 r15 r16-17 k20 k22 k24 r26-27 r31-35 k36-37 r39 k41 r44-46 r48",
"k0-1 r3-4 k11 r15-16 k18 k20-21 r22 k24 r25-27 k28-29 k30 r32-34 k40 r44 r46 k48-49",
"k0-1 r2 r4 k5 k9 r11-13 k14 r18 r22-23 k24-26 k30 r31-35 r39 k45 r47 k48-50",
"k0 r3 k7 r9-13 k14 r18 r22 r24-25 k27-28 r29-30 k32-34 k38 k40-42 r43 k45-46 r48 k49",
"k0 r2 r5-7 r9-10 k13-14 r15-16 k17 r22 r27-28 r30 k32-34 k38 k40-41 r43 k45 r47 k48-50",
"r0 k2 r3-4 k6-8 r9-11 k11 k13 r15 r19-22 k33 k35-36 r37 r38 k40 r42-43 k45-46 r47 k48-50",
"r3-4 r6 k7-10 r10-12 r14 k16-17 r19-24 k27 k34-36 r35-37 k38-39 r41 k43 k46 r47 k48-49",
"r1 r3 r5 k9 k11 k14-16 r18 k19-20 k24-25 r27 r29-30 r36 k40-42 r42-44 k45 k47-49",
"r1 k3 r5 k6-8 r9 r11-12 k14-15 k17 k19-22 k25 r27 r29-30 r35-37 k37-41 r43-44 r46-47 k48-50",
"k1 r4 k7-8 r9 r11 k13 r16 k16-22 k26 r26-27 k31-33 r33-36 k38-39 r43-44 k46 r48-49",
"r0 k1 k7-8 r11 k12 r14 k15-17 k19-22 r23 k26-28 r34-37 k38-39 r42 k43 r47-50",
"k0-2 r2 k6 k9-10 r11-13 k13-15 r15 k17-19 r20-21 r24 k26-27 r31 r33-38 k39-40 r44-45 k48 r47 k49-50",
"r0 r4 k6 r7-8 k9-11 r12-13 k14 k17-20 r20 r24-25 r28 r33-37 r38-40 k39-40 r45-46 k47-48 k49",
"k1 k5-6 r7-10 k10 r12-13 k16-20 r20 k22 r26-27 k29 r34-35 r37-39 k39 r42 k44-46 r47-49",
"k0 r1 k3 k5-6 k8 r9 k10 r12-14 k17-19 r21 k22 k26 k28 r30-31 k34 r40-41 k44-45 k46-48 r49-50",
"r0 r2-3 k8 r9 k10 r13-14 k14 k18-20 r20-21 k28 k28-29 r30-31 r37 k38-39 r42-43 k44-45 k46-48 r50",
"k0-1 r3-4 k5-6 k13-14 r15 k18-19 r22 r24 k25-26 k28-32 k33 r37 k37-39 r42-44 k46-47 k48 r49-50",
"r0 k1 k3-4 k5-8 r8 r11 k12 r16-17 k22 r25-26 k28 k31-32 r35 k34-35 k37-38 r42-43 k44-45 k46-47 k49 r50",
"k0 r2 k3-4 r6-8 k9 r13-14 k16 k19 r25-26 r28 r31 k34-35 r36 k38-39 r42-43 k46-47 r48-50",
"k2 r4-7 k10-12 r13 k15-17 r17-19 r20 k20 r24-26 k34 k37 r41-42 r43-45 k46-47 r48-50",
"r0 k3 k5 r6-7 r9-10 k11-13 r14 k15-16 r17-19 k22 r24-25 r26-27 k28-30 r30 r32-33 k35 r39 r41 k43 r43-44 k46 r48 k49-50",
"k0 r1 k2 r6-7 r9-10 k12 r13 r15-16 k18-20 r21 r24-25 k28-29 k30 r33 k34 k35 r38 r44 r45-46 k47-48 r49-50",
"k0 r2 r9 k12 r13-14 r16 k18-19 r20-21 r25-27 k30 k33 k35 k38 r41 r45 k47-48 r49-50",
"r0 r2-3 k6-7 r10 k11-12 r14-16 r18 r24 r25-26 k27 r29 k33 k35 k39-42 k47 r49-50",
"r0 k1-2 r3 k6-7 k9-11 k13 k20 r22-23 k25-26 r29 r31 k38 k39-43 r44-45 r47-48 r49",
"r0 k2 r3-5 k5-7 r8-11 k13-14 r16 k17 k20 r21-22 k24 k26 k28-29 r29 r31-32 k37 r39-41 k43 r44-46 r47-50",
"k0 r1 r4-5 k7-8 r8-11 r13 k14 r15 k17 r20-22 k23-24 k26 k29 k30-31 k33-34 k36 r38-39 k43 r45 r48-50",
"r0 r2 k3 k7-9 k10-11 r20-22 k19 k23-25 r26-27 r31 k32-33 k34-35 r35 r39-40 k42",
"r1 k2 k5-6 k8-9 r8 r11 k15 r19-21 k22 r23 k26 r27-29 k30 k33-34 r33 k40 r47-48 k49 r50",
"r1 k2 r3 k5-7 r8-12 k12-13 r17-18 k20-21 k23-25 k27-28 k30-31 k33 k37 r38-41 k43 r47-49 k49",
"k0 k4 k8 r14 k15 r27 r29 r33 k35-38 r39-40 k44 r45 k48-50",
"r6 k8 r11-12 k14 r15-16 k21-23 k25 r27 r29 r32 k44-45 k47 r48-49 k50",
"k0 k2 r5 k8-9 k12 r14 k17 r19 k21-23 k25 r31-32 k34 r36 k38-39 r43-48 k49",
"r0 r2 k4 k7 r8-9 k15 r18 k21 k23 r25 k27-28 r30-31 r33 r36 k39 k41 k44 r46-48 k49-50",
"r1-3 k5 r9 k11 k14 k18-20 k22 r24 k25 r29 k31-33 r34-36 k38 r39 k43-44 k49-50",
"k0 r2 k4 r8-10 k11 k13 k16-20 r22 k24-25 r27 r29 k31-32 k35-36 r41 k43 k46 k50",
"r0 k2 r6-12 k15-17 k19 k24 k28-32 k35-37 r41 k43-44 k46 r47-48",
"k2 r7 r10 r14 r17 k20 r22-23 k24 k29 r31 k33 k35-37 k42-44 k46 r50",
"r0-5 k10 r13-15 k20 r22-24 k27 k29 k31-32 r35 r37-38 k41-42 k44 r48 k49",
"r3-5 k8 r12 k14 r15 k16-18 k20-21 k26 r29 k31-33 r35 r37 k38 r40 k42 k46 r48",
"r0 k5 k9 r11-12 k14 r15 k20-21 r22-25 r29 k30 k32 r33-34 r36-37 k39-40 r42-43 k46 k49 r50",
"r5 k8 r10-12 r15 r19 k21 r24-27 r31-32 k34 r36-38 k39-40 k46 r48",
"k0 r1 k8 k11-13 r15 r17 r19 r21 k24 k27-28 r31-33 k34-35 r37 k38-39 k41 r42 k45-46 r49",
"r0 r2 r4 k6 r7-8 r10-11 k11-13 r13 r17 r19 r21 r22 k23-24 r26 k27-28 r30-33 k34-36 k37-39 r40-41 k44-47 r48-50",
"r0 k2-3 r4 r6-8 r9-10 k11-12 r16 k20 r21 r23-25 r27-28 k29-30 r31-33 k34-37 k38-39 r40-41 k44-45 r46 k47 r49-50",
"k0 k1-3 r4-5 k9 r9 k11-12 k17 r18 k21-22 r24-25 r28-30 k31-32 r33-34 r36 k37-39 r41-42 k43 k46-47 r48-50",
"k0 r2 r4-6 k9-12 r15 k16 k18 r19 k21 r22-24 k25 r26-27 r28 k30-31 k32 r33-34 k36 r39 r41 k44 k46 r49-50"
];
const panelGrids=[[gridT0,gridA15,gridA30],[gridT0,gridB15,gridB30],[gridT0,gridC15,gridC30]];
function points(rows,kind){const out=[];rows.forEach((s,r)=>{for(const m of s.matchAll(/([kr])(\d+)(?:-(\d+))?/g)){if(m[1]!==kind)continue;const a=+m[2],b=m[3]?+m[3]:a;for(let c=a;c<=b;c++)out.push({x:c,y:r});}});return out;}
const L=[20,779,1536],T=[134,853,1573];
const P=4;
L.forEach((l,c)=>{const d=document.createElement('div');d.className='t';d.style.left=l+'px';d.textContent=titles[c];document.body.appendChild(d);
T.forEach((t,ri)=>{const cv=document.createElement('canvas');cv.style.left=(l-P)+'px';cv.style.top=(t-P)+'px';document.body.appendChild(cv);cv.width=632+2*P;cv.height=593+2*P;cv.style.width=(632+2*P)+'px';cv.style.height=(593+2*P)+'px';
const g=panelGrids[ri][c];
new Chart(cv,{type:'scatter',data:{datasets:[{data:points(g,'k'),backgroundColor:'#212121',borderWidth:0,pointRadius:10.3},{data:points(g,'r'),backgroundColor:'#c44e52',borderWidth:0,pointRadius:10.3}]},options:{responsive:false,devicePixelRatio:1,animation:false,plugins:{legend:{display:false},tooltip:{enabled:false}},layout:{padding:P,autoPadding:false},scales:{x:{min:-2.5,max:52.5,display:false},y:{min:-2.5,max:52.5,reverse:true,display:false}}},plugins:[{id:'f',afterDraw(ch){const x=ch.ctx,a=ch.chartArea;x.strokeStyle='#d4d4d4';x.lineWidth=3;x.strokeRect(a.left,a.top,a.right-a.left,a.bottom-a.top)}}]});});});
</script></body></html>
